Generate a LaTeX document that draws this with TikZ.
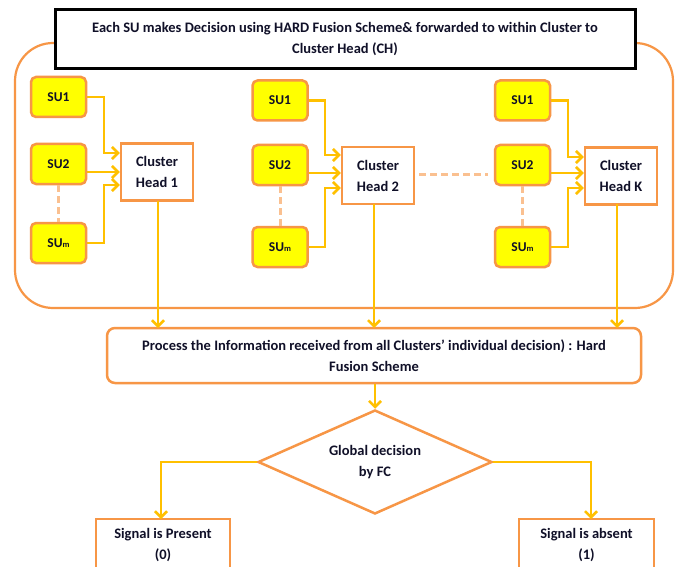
\documentclass[tikz,border=0pt]{standalone}
\usepackage{fontspec}
\setmainfont{Carlito}
\usetikzlibrary{shapes.geometric,arrows.meta,calc}
\definecolor{borange}{HTML}{F79646}
\definecolor{aryel}{HTML}{FFC000}
\definecolor{suyel}{HTML}{FFFF00}
\definecolor{dashor}{HTML}{FAC090}
\definecolor{txt}{HTML}{101028}
\begin{document}
\begin{tikzpicture}[x=1pt,y=-1pt,
  every node/.style={font=\fontsize{14.5}{21}\selectfont\bfseries, text=txt},
  subox/.style={draw=borange, line width=2.5pt, fill=suyel, rounded corners=5pt,
    minimum width=55pt, minimum height=40pt, inner sep=0pt, font=\fontsize{13.5}{15}\selectfont\bfseries},
  chbox/.style={draw=borange, line width=2.5pt, fill=white, minimum width=72pt,
    minimum height=57pt, inner sep=0pt, align=center, font=\fontsize{14.5}{21}\selectfont\bfseries},
  arr/.style={draw=aryel, line width=2.5pt, -{Straight Barb[length=6pt,width=12pt,line width=2.5pt]}},
  dsh/.style={draw=dashor, line width=3pt, dash pattern=on 7pt off 4pt},
  outbox/.style={draw=borange, line width=2.5pt, fill=white, inner sep=0pt, align=center}
]
\useasboundingbox (0,0) rectangle (680,567);
\clip (0,0) rectangle (680,567);
\fill[white] (0,0) rectangle (680,567);

% big rounded container
\draw[borange, line width=2.2pt, rounded corners=38pt] (15,43) rectangle (673,308);

% top box
\node[draw=black, line width=3pt, fill=white, minimum width=580pt, minimum height=59pt,
  inner sep=0pt, align=center] (top) at (345,39.5)
  {Each SU makes Decision using HARD Fusion Scheme\& forwarded to within Cluster to\\Cluster Head (CH)};

% cluster 1
\node[subox] (a1) at (58.5,97) {SU1};
\node[subox] (a2) at (58.5,164) {SU2};
\node[subox] (am) at (58.5,243) {SU{\fontsize{8.5}{9}\selectfont m}};
\node[chbox] (ch1) at (157,172) {Cluster\\Head 1};

% cluster 2
\node[subox] (b1) at (280,100.5) {SU1};
\node[subox] (b2) at (280,165) {SU2};
\node[subox] (bm) at (280,247) {SU{\fontsize{8.5}{9}\selectfont m}};
\node[chbox] (ch2) at (378,175.5) {Cluster\\Head 2};

% cluster K
\node[subox] (k1) at (522.5,100.5) {SU1};
\node[subox] (k2) at (522.5,165) {SU2};
\node[subox] (km) at (522.5,247) {SU{\fontsize{8.5}{9}\selectfont m}};
\node[chbox] (chk) at (621,176) {Cluster\\Head K};

% dashed links
\draw[dsh] (a2.south) -- (am.north);
\draw[dsh] (b2.south) -- (bm.north);
\draw[dsh] (k2.south) -- (km.north);
\draw[dsh] ($(ch2.east)+(4,-1.5)$) -- ($(k2.west |- ch2.east)+(-6,-1.5)$);

% arrows into cluster heads
\draw[arr] (a1.east) -| (104,153) -- ($(ch1.west)+(0,-19)$);
\draw[arr] (a2.east |- ch1.west) -- (ch1.west);
\draw[arr] (am.east) -| (104,185) -- ($(ch1.west)+(0,13)$);

\draw[arr] (b1.east) -| (325,155) -- ($(ch2.west)+(0,-20.5)$);
\draw[arr] (b2.east |- 0,173) -- (ch2.west |- 0,173);
\draw[arr] (bm.east) -| (325,188) -- (ch2.west |- 0,188);

\draw[arr] (k1.east) -| (568,157) -- (chk.west |- 0,157);
\draw[arr] (k2.east |- 0,173) -- (chk.west |- 0,173);
\draw[arr] (km.east) -| (568,188) -- (chk.west |- 0,188);

% process box
\node[outbox, rounded corners=8pt, minimum width=534pt, minimum height=55pt] (proc) at (374,355.5)
  {Process the Information received from all Clusters’ individual decision) : Hard\\Fusion Scheme};

\draw[arr] (158,201) -- (158,328);
\draw[arr] (374,204) -- (374,328);
\draw[arr] (617,204) -- (617,328);

% diamond
\node[draw=borange, line width=2.5pt, fill=white, diamond, aspect=2.25, minimum width=234pt,
  minimum height=104pt, inner sep=0pt, align=center] (dec) at (375,462) {Global decision\\by FC};
\draw[arr] (proc.south -| dec.north) -- (dec.north);

% outcome boxes
\node[outbox, minimum width=134pt, minimum height=52pt] (pres) at (163,545) {Signal is Present\\(0)};
\node[outbox, minimum width=135pt, minimum height=52pt] (abs) at (586.5,545) {Signal is absent\\(1)};

\draw[arr] (dec.west) -| (161,519);
\draw[arr] (dec.east) -| (591,519);
\end{tikzpicture}
\end{document}
